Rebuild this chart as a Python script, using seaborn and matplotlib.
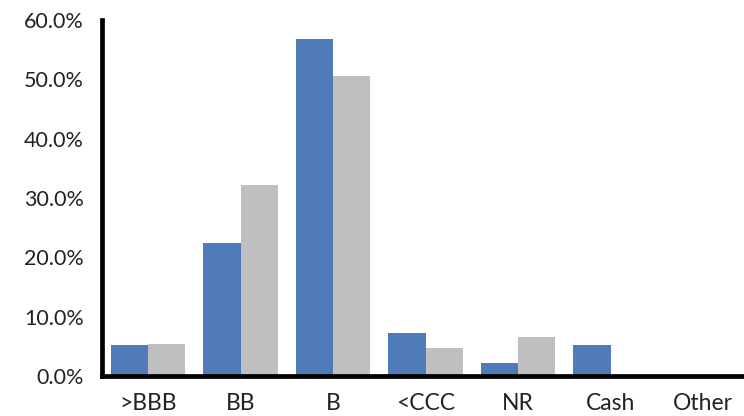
import seaborn as sns
import pandas as pd
import matplotlib.pyplot as plt
from matplotlib.ticker import PercentFormatter

# Datos
categorias = ['>BBB', 'BB', 'B', '<CCC', 'NR', 'Cash', 'Other']
fondo = [5.2, 22.4, 56.8, 7.3, 2.2, 5.2, 0.0]
referencia = [5.4, 32.2, 50.5, 4.8, 6.6, 0.0, 0.0]

df = pd.DataFrame({
    'categoria': categorias * 2,
    'valor': fondo + referencia,
    'serie': ['Fondo'] * len(categorias) + ['Referencia'] * len(categorias),
})

sns.set_style('white')
plt.rcParams['font.family'] = ['Lato', 'DejaVu Sans']

fig = plt.figure(figsize=(7.44, 4.16), dpi=100)
ax = fig.add_axes([101.75 / 744, 40 / 416, 647.5 / 744, 356 / 416])

sns.barplot(data=df, x='categoria', y='valor', hue='serie',
            palette=['#4F7BB8', '#BFBFBF'], width=0.81, saturation=1,
            linewidth=0, legend=False, ax=ax)

ax.set_ylim(0, 60)
ax.set_xlim(-0.5, len(categorias) - 0.5)
ax.set_yticks(range(0, 61, 10))
ax.yaxis.set_major_formatter(PercentFormatter(decimals=1))
ax.set_xlabel('')
ax.set_ylabel('')

for lado in ['top', 'right']:
    ax.spines[lado].set_visible(False)
for lado in ['left', 'bottom']:
    ax.spines[lado].set_linewidth(3.4)
    ax.spines[lado].set_color('black')
    ax.spines[lado].set_capstyle('projecting')

ax.tick_params(axis='y', length=0, pad=13, labelsize=15.5, labelcolor='#222222')
ax.tick_params(axis='x', length=0, pad=12, labelsize=16.5, labelcolor='#222222')

fig.savefig('out.png', dpi=100)
